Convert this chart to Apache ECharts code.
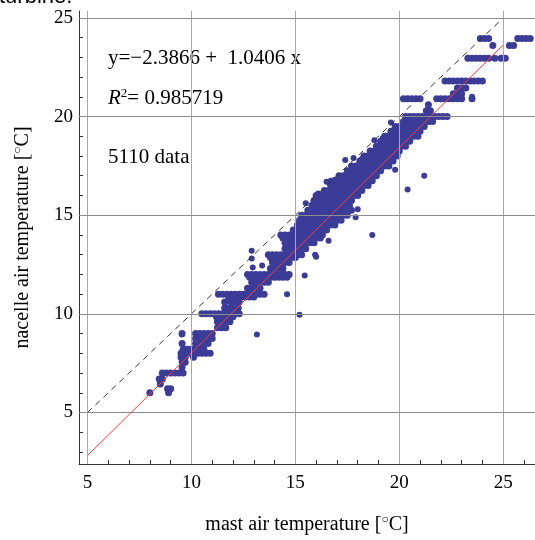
<!DOCTYPE html>
<html><head><meta charset="utf-8">
<script src="https://cdn.jsdelivr.net/npm/echarts@6/dist/echarts.min.js"></script>
<style>html,body{margin:0;padding:0;background:#fff}#c{width:535px;height:540px}</style>
</head><body><div id="c"></div>
<script>
// nacelle temperature levels (y) and mast temperatures (x) observed at each level
const nacelleLevels = [6.0,6.2,6.45,6.7,7.0,7.3,7.55,7.8,8.0,8.2,8.5,8.75,9.0,9.3,9.6,9.85,10.0,10.3,10.6,10.85,11.0,11.3,11.6,11.85,12.0,12.3,12.6,12.85,13.0,13.3,13.6,13.85,14.0,14.25,14.5,14.75,15.0,15.25,15.5,15.75,16.0,16.25,16.5,16.75,17.0,17.25,17.5,17.75,18.0,18.25,18.5,18.75,19.0,19.25,19.5,19.75,20.0,20.3,20.6,20.9,21.15,21.45,21.8,22.95,23.6,23.95];
const mastByLevel = [
 [8.0,8.9],
 [8.85,9.0],
 [8.5],
 [8.6,8.45],
 [8.6,8.8,9.0,9.2,9.4,9.6],
 [9.55],
 [9.55,9.7],
 [9.5,9.7,10.1],
 [9.5,9.7,9.9,10.1,10.3,10.5,10.7,10.9],
 [9.6,9.8,10.0,10.2,10.4,10.6],
 [9.55,10.2,10.4,10.6,10.8],
 [10.2,10.4,10.6,10.8,11.0],
 [9.55,10.2,10.4,10.6,10.8,11.0],
 [11.25,11.45,11.65],
 [11.25,11.45,11.65,11.85],
 [11.2,11.4,11.6,11.8,12.0],
 [10.5,10.7,10.9,11.1,11.3,11.5,11.7,11.9,12.1,12.3],
 [11.6,11.8,12.0,12.25],
 [11.6,11.9,12.1,12.3],
 [11.8,12.0,12.2,12.4,12.6,12.8,13.0],
 [11.3,11.5,11.7,11.9,12.1,12.3,12.5,12.7,12.9,13.1,13.3,13.5],
 [12.7,12.9,13.1,13.3],
 [12.9,13.1,13.3,13.5,13.7],
 [12.8,13.0,13.2,13.4,13.6,13.8,14.0,14.2,14.4,14.6],
 [12.7,12.9,13.1,13.3,13.5,13.7,13.9,14.1,14.3,14.5,14.7],
 [13.8,14.0,14.2,14.4],
 [13.9,14.1,14.3,14.5,14.7],
 [13.8,14.0,14.2,14.4,14.6,14.8,15.0],
 [13.7,13.9,14.1,14.3,14.5,14.7,14.9,15.1,15.3],
 [14.5,14.7,14.9,15.1,15.3,15.5],
 [14.5,14.7,14.9,15.1,15.3,15.5,15.7,15.9],
 [14.4,14.6,14.8,15.0,15.2,15.4,15.6,15.8,16.0,16.2],
 [14.3,14.5,14.7,14.9,15.1,15.3,15.5,15.7,15.9,16.1,16.3],
 [14.9,15.1,15.3,15.5,15.7,15.9,16.1,16.3,16.5],
 [15.1,15.3,15.5,15.7,15.9,16.1,16.3,16.5,16.7,16.9],
 [15.2,15.4,15.6,15.8,16.0,16.2,16.4,16.6,16.8,17.0,17.2],
 [15.3,15.5,15.7,15.9,16.1,16.3,16.5,16.7,16.9,17.1,17.3,17.5],
 [15.6,15.8,16.0,16.2,16.4,16.6,16.8,17.0,17.2,17.4,17.7],
 [15.8,16.0,16.2,16.4,16.6,16.8,17.0,17.2,17.4,17.6],
 [15.9,16.1,16.3,16.5,16.7,16.9,17.1,17.3,17.5,17.7],
 [16.0,16.2,16.4,16.6,16.8,17.0,17.2,17.4,17.6,17.8,18.0],
 [16.4,16.6,16.8,17.0,17.2,17.4,17.6,17.8,18.0,18.2],
 [16.7,16.9,17.1,17.3,17.5,17.7,17.9,18.1,18.3,18.5],
 [16.9,17.1,17.3,17.5,17.7,17.9,18.1,18.3,18.5,18.7],
 [17.1,17.3,17.5,17.7,17.9,18.1,18.3,18.5,18.7,18.9],
 [17.5,17.7,17.9,18.1,18.3,18.5,18.7,18.9,19.1],
 [17.7,17.9,18.1,18.3,18.5,18.7,18.9,19.1,19.3,19.5],
 [18.1,18.3,18.5,18.7,18.9,19.1,19.3,19.5,19.7],
 [18.3,18.5,18.7,18.9,19.1,19.3,19.5,19.7,19.9],
 [18.6,18.8,19.0,19.2,19.4,19.6,19.8,20.0],
 [18.9,19.1,19.3,19.5,19.7,19.9,20.1,20.3],
 [19.1,19.3,19.5,19.7,19.9,20.1,20.3,20.5],
 [19.3,19.5,19.7,19.9,20.1,20.3,20.5,20.7,20.9],
 [19.6,19.8,20.0,20.2,20.4,20.6,20.8,21.0],
 [19.8,20.0,20.2,20.4,20.6,20.8,21.0,21.2],
 [20.2,20.4,20.6,20.8,21.0,21.2,21.4,21.6],
 [20.3,20.5,20.7,20.9,21.1,21.3,21.5,21.7,21.9,22.1,22.3],
 [21.3,21.5],
 [21.4],
 [20.2,20.4,20.6,20.8,21.0,21.8,22.0,22.2,22.4,22.6,22.8,23.0,23.5],
 [22.6,22.8,23.0],
 [22.8,23.0,23.2],
 [22.2,22.4,22.6,22.8,23.0,23.2,23.4,23.6,23.8,24.0],
 [23.3,23.5,23.7,23.9,24.1,24.3,24.6,24.9,25.1],
 [24.5,25.3,25.5],
 [23.9,24.1,24.3,25.7,25.9,26.1,26.3]
];
// isolated points [mast, nacelle]
const outliers = [[13.15,8.95],[15.2,9.95],[14.6,11.0],[15.45,11.95],[15.95,13.0],[16.0,12.9],[18.7,14.0],[18.0,15.3],[20.4,16.3],[21.2,17.0],[19.8,17.3],[12.9,13.2],[12.9,12.8],[12.95,12.35],[13.4,12.45],[16.1,16.1],[16.5,16.7],[16.7,16.75],[16.9,16.8],[17.4,17.8],[17.8,17.9],[18.2,17.85],[18.8,18.8],[19.2,18.9],[19.6,19.7],[20.4,19.8],[23.5,21.0],[11.6,10.6],[11.6,10.3],[12.25,10.3],[9.54,8.95],[8.0,6.0],[8.5,6.45],[15.5,15.6],[17.9,14.9],[16.6,13.7]];
// regression line y = -2.3866 + 1.0406 x, endpoints
const fitLine = [[5, 2.8164],[25, 23.6284]];
const identityLine = [[5,5],[25,25]];
const gridValues = [5,10,15,20,25];
const xTicks = [5,6,7,8,9,10,11,12,13,14,15,16,17,18,19,20,21,22,23,24,25,26];
const yTicks = [3,4,5,6,7,8,9,10,11,12,13,14,15,16,17,18,19,20,21,22,23,24,25];
const majorLabels = [5,10,15,20,25];

const cloud = [];
nacelleLevels.forEach((y,i)=>mastByLevel[i].forEach(x=>cloud.push([x,y])));

const serif = 'Liberation Serif, Times New Roman, serif';
const chart = echarts.init(document.getElementById('c'), null, {renderer:'canvas'});
const gl = [];
gridValues.forEach(v=>gl.push({xAxis:v, lineStyle:{color:'#a8a8a8',width:1,type:'solid'}}));
gridValues.forEach(v=>gl.push({yAxis:v, lineStyle:{color:'#8c8c8c',width:1,type:'solid'}}));
const blue = '#3b3b98';
const nameRich = {a:{fontFamily:serif,fontSize:20,color:'#000'},b:{fontFamily:serif,fontSize:12,color:'#000',verticalAlign:'top',padding:[0,0,10,0]}};

chart.setOption({
  animation:false,
  backgroundColor:'#fff',
  grid:{left:79,top:11,right:0,bottom:68,containLabel:false},
  xAxis:{type:'value',min:4.59,max:26.53,
    name:'{a|mast air temperature [}{b|○}{a|C]}',nameLocation:'middle',nameGap:50,
    nameTextStyle:{rich:nameRich},
    axisLine:{show:true,onZero:false,lineStyle:{color:'#333',width:1}},
    axisTick:{show:true,inside:true,length:4,customValues:xTicks,lineStyle:{color:'#333'}},
    axisLabel:{customValues:majorLabels,fontFamily:serif,fontSize:19,color:'#000',margin:10},
    splitLine:{show:false}},
  yAxis:{type:'value',min:2.39,max:25.35,
    name:'{a|nacelle air temperature [}{b|○}{a|C]}',nameLocation:'middle',nameGap:45,nameRotate:90,
    nameTextStyle:{rich:nameRich},
    axisLine:{show:true,onZero:false,lineStyle:{color:'#333',width:1}},
    axisTick:{show:true,inside:true,length:4,customValues:yTicks,lineStyle:{color:'#333'}},
    axisLabel:{customValues:majorLabels,fontFamily:serif,fontSize:19,color:'#000',margin:6},
    splitLine:{show:false}},
  series:[
    {type:'line',data:[],z:1,markLine:{silent:true,symbol:'none',animation:false,label:{show:false},data:gl}},
    {type:'scatter',data:cloud,symbolSize:7,z:2,itemStyle:{color:blue,opacity:1}},
    {type:'scatter',data:outliers,symbolSize:6,z:2,itemStyle:{color:blue,opacity:1}},
    {type:'line',data:identityLine,symbol:'none',z:3,lineStyle:{color:'#333',width:1,type:[6,5]}},
    {type:'line',data:fitLine,symbol:'none',z:4,lineStyle:{color:'#ff3b3b',width:1,opacity:1}}
  ],
  graphic:[
    {type:'text',left:-1,top:-14,style:{text:'turbine.',font:'22px Liberation Sans, Arial, sans-serif',fill:'#000'}},
    {type:'text',x:108,y:58,style:{text:'y=−2.3866 +  1.0406 x',font:'21px '+serif,fill:'#000',verticalAlign:'middle'}},
    {type:'text',x:108,y:98,style:{text:'{i|R}{s|2}{n|= 0.985719}',verticalAlign:'middle',rich:{i:{fontFamily:serif,fontStyle:'italic',fontSize:21,fill:'#000'},s:{fontFamily:serif,fontSize:13,fill:'#000',verticalAlign:'top',padding:[0,0,8,0]},n:{fontFamily:serif,fontSize:21,fill:'#000'}}}},
    {type:'text',x:108,y:157,style:{text:'5110 data',font:'21px '+serif,fill:'#000',verticalAlign:'middle'}}
  ]
});
</script></body></html>
